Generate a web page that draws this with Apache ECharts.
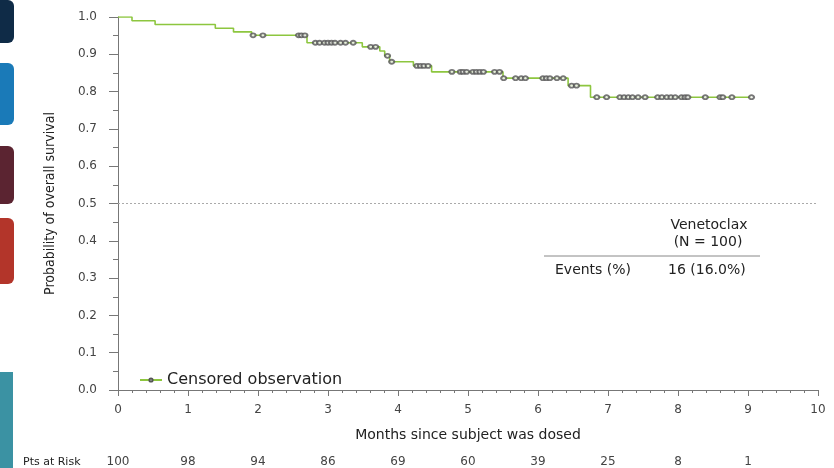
<!DOCTYPE html>
<html>
<head>
<meta charset="utf-8">
<script src="https://cdn.jsdelivr.net/npm/echarts@6/dist/echarts.min.js"></script>
<style>
html, body { margin: 0; padding: 0; background: #fff; }
#main { width: 834px; height: 468px; }
</style>
</head>
<body>
<div id="main"></div>
<script>
// Kaplan-Meier steps: survival value holds from stepTimes[i] onward
var stepTimes = [0, 0.2, 0.53, 1.39, 1.65, 1.91, 2.7, 3.49, 3.74, 3.81, 3.88, 4.22, 4.48, 5.5, 6.43, 6.75];
var stepSurv  = [1.0, 0.99, 0.98, 0.97, 0.96, 0.951, 0.931, 0.92, 0.909, 0.896, 0.88, 0.869, 0.853, 0.836, 0.816, 0.785];
var lastTime = 9.05;

// censored observations (months)
var censorTimes = [1.93, 2.07, 2.58, 2.62, 2.67, 2.82, 2.88, 2.95, 3.0, 3.05, 3.1, 3.18, 3.25, 3.36,
  3.61, 3.68, 3.85, 3.91, 4.27, 4.32, 4.37, 4.43, 4.77, 4.89, 4.93, 4.98, 5.07, 5.12, 5.17, 5.22,
  5.38, 5.45, 5.51, 5.68, 5.76, 5.82, 6.07, 6.12, 6.17, 6.27, 6.36, 6.48, 6.55, 6.84, 6.98, 7.17,
  7.23, 7.29, 7.35, 7.43, 7.53, 7.71, 7.77, 7.84, 7.9, 7.96, 8.05, 8.1, 8.14, 8.39, 8.6, 8.64, 8.77, 9.05];

// patients at risk at months 0..9
var riskMonths = [0, 1, 2, 3, 4, 5, 6, 7, 8, 9];
var riskCounts = [100, 98, 94, 86, 69, 60, 39, 25, 8, 1];

function survAt(t) {
    var s = stepSurv[0];
    for (var i = 0; i < stepTimes.length; i++) {
        if (stepTimes[i] <= t) s = stepSurv[i];
    }
    return s;
}

var lineData = stepTimes.map(function (t, i) { return [t, stepSurv[i]]; });
lineData.push([lastTime, survAt(lastTime)]);
var censorData = censorTimes.map(function (t) { return [t, survAt(t)]; });

var green = '#8dc63f';
var axisGray = '#777';
var txt = '#444';
var tableFont = '14px "DejaVu Sans"';

var myChart = echarts.init(document.getElementById('main'));
var option = {
    backgroundColor: '#fff',
    animation: false,
    grid: { left: 118, right: 16, top: 17, bottom: 77 },
    legend: {
        left: 134,
        top: 367,
        itemWidth: 22,
        itemHeight: 4,
        itemGap: 5,
        textStyle: { fontFamily: 'DejaVu Sans', fontSize: 16, color: '#222' },
        data: ['Censored observation']
    },
    xAxis: [{
        type: 'value',
        min: 0,
        max: 10,
        interval: 1,
        name: 'Months since subject was dosed',
        nameLocation: 'middle',
        nameGap: 38,
        nameTextStyle: { fontFamily: 'DejaVu Sans', fontSize: 14, color: '#222' },
        axisLine: { lineStyle: { color: axisGray } },
        axisTick: { length: 6, lineStyle: { color: axisGray } },
        minorTick: { show: true, splitNumber: 5, length: 3, lineStyle: { color: axisGray } },
        axisLabel: { fontFamily: 'DejaVu Sans', fontSize: 12, color: txt, margin: 14 },
        splitLine: { show: false }
    }, {
        type: 'value',
        min: 0,
        max: 10,
        interval: 1,
        position: 'bottom',
        offset: 62,
        axisLine: { show: false },
        axisTick: { show: false },
        axisLabel: {
            fontFamily: 'DejaVu Sans', fontSize: 12, color: txt, margin: 4,
            formatter: function (v) {
                var k = riskMonths.indexOf(v);
                return k >= 0 ? String(riskCounts[k]) : '';
            }
        },
        splitLine: { show: false }
    }],
    yAxis: {
        type: 'value',
        min: 0,
        max: 1,
        interval: 0.1,
        name: 'Probability of overall survival',
        nameLocation: 'middle',
        nameGap: 61,
        nameTextStyle: { fontFamily: 'DejaVu Sans Condensed', fontSize: 14, color: '#222' },
        axisLine: { show: true, lineStyle: { color: axisGray } },
        axisTick: { show: true, length: 9, lineStyle: { color: axisGray } },
        minorTick: { show: true, splitNumber: 2, length: 5, lineStyle: { color: axisGray } },
        axisLabel: {
            fontFamily: 'DejaVu Sans', fontSize: 12, color: txt, margin: 21,
            formatter: function (v) { return v.toFixed(1); }
        },
        splitLine: { show: false }
    },
    series: [{
        name: 'Censored observation',
        type: 'line',
        step: 'end',
        symbol: 'emptyCircle',
        symbolSize: 4,
        showSymbol: false,
        lineStyle: { color: green, width: 1.6 },
        itemStyle: { color: '#555', borderColor: '#555', borderWidth: 1 },
        data: lineData,
        z: 2,
        markLine: {
            silent: true,
            symbol: 'none',
            label: { show: false },
            lineStyle: { color: '#aaa', type: [2, 2], width: 1 },
            data: [{ yAxis: 0.5 }]
        }
    }, {
        name: 'censored',
        type: 'scatter',
        symbol: 'emptyCircle',
        symbolSize: [5, 4],
        itemStyle: { color: '#555', borderColor: '#555', borderWidth: 0.9 },
        data: censorData,
        z: 3
    }],
    graphic: [
        { type: 'rect', left: 0, top: 0, shape: { width: 14, height: 43, r: [0, 6, 6, 0] }, style: { fill: '#0f2b47' } },
        { type: 'rect', left: 0, top: 63, shape: { width: 14, height: 62, r: [0, 6, 6, 0] }, style: { fill: '#1a7ab8' } },
        { type: 'rect', left: 0, top: 146, shape: { width: 14, height: 58, r: [0, 6, 6, 0] }, style: { fill: '#5b2431' } },
        { type: 'rect', left: 0, top: 218, shape: { width: 14, height: 66, r: [0, 6, 6, 0] }, style: { fill: '#b3352a' } },
        { type: 'rect', left: 0, top: 372, shape: { width: 13, height: 96, r: 0 }, style: { fill: '#3b92a3' } },
        { type: 'text', x: 709, y: 225, style: { text: 'Venetoclax', font: tableFont, fill: '#222', align: 'center', verticalAlign: 'middle' } },
        { type: 'text', x: 708, y: 242, style: { text: '(N = 100)', font: tableFont, fill: '#222', align: 'center', verticalAlign: 'middle' } },
        { type: 'line', shape: { x1: 544, y1: 256, x2: 760, y2: 256 }, style: { stroke: '#888', lineWidth: 1 } },
        { type: 'text', x: 555, y: 270, style: { text: 'Events (%)', font: tableFont, fill: '#222', verticalAlign: 'middle' } },
        { type: 'text', x: 668, y: 270, style: { text: '16 (16.0%)', font: tableFont, fill: '#222', verticalAlign: 'middle' } },
        { type: 'text', x: 23, y: 462, style: { text: 'Pts at Risk', font: '11px "DejaVu Sans"', fill: '#222', verticalAlign: 'middle' } }
    ]
};
myChart.setOption(option);
</script>
</body>
</html>
